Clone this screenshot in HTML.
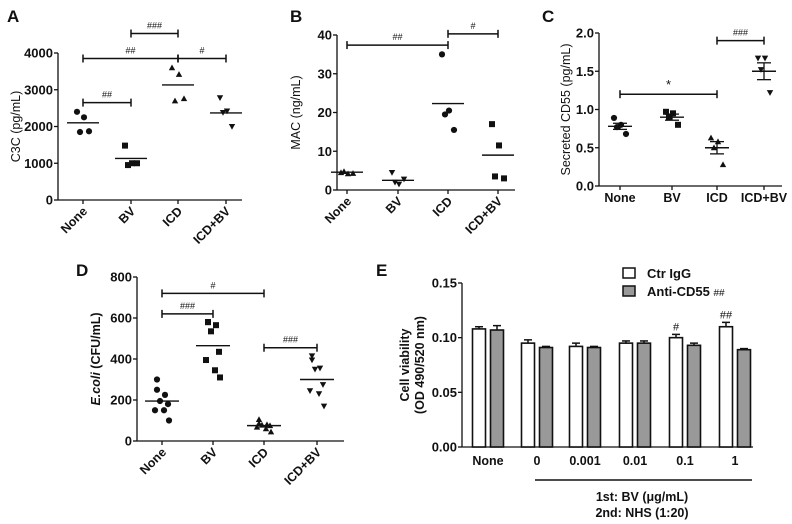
<!DOCTYPE html>
<html><head><meta charset="utf-8"><style>
body{margin:0;background:#fff}
svg{display:block;font-family:"Liberation Sans",Arial,sans-serif;font-weight:bold}
</style></head><body>
<svg id="fig" width="792" height="524" viewBox="0 0 792 524"></svg>
<script>
// ---- Data ----
const groups = ["None","BV","ICD","ICD+BV"];
const aVals = [[2400,2250,1850,1870],[1480,1000,950,1000],[3600,3420,2700,2760],[2780,2420,2380,2000]];
const aMeans = [2100,1130,3130,2370];
const bVals = [[4.5,4.2,4.8,4.3],[4.5,1.5,2.0,2.8],[35,20.5,19.5,15.5],[17,11.5,3.5,3]];
const bMeans = [4.6,2.5,22.3,9];
const cVals = [[0.89,0.8,0.77,0.68],[0.97,0.95,0.9,0.8],[0.63,0.58,0.5,0.28],[1.67,1.67,1.52,1.22]];
const cMeans = [0.78,0.9,0.5,1.5];
const cSem = [0.04,0.04,0.08,0.11];
const dVals = [[300,250,225,195,180,150,150,100],[580,580,565,535,435,395,345,310],[105,85,80,78,75,68,60,45],[415,395,355,350,275,245,230,170]];
const dMeans = [195,465,75,300];
const eCats = ["None","0","0.001","0.01","0.1","1"];
const eCtr = [0.108,0.095,0.092,0.095,0.100,0.110];
const eCtrErr = [0.002,0.003,0.003,0.002,0.003,0.004];
const eAnti = [0.107,0.091,0.091,0.095,0.093,0.089];
const eAntiErr = [0.004,0.001,0.001,0.002,0.002,0.001];
const aTicks = [0,1000,2000,3000,4000];
const bTicks = [0,10,20,30,40];
const cTicks = ["0.0","0.5","1.0","1.5","2.0"];
const dTicks = [0,200,400,600,800];
const eTicks = ["0.00","0.05","0.10","0.15"];

const NS="http://www.w3.org/2000/svg";
const svg=document.getElementById('fig');
function el(tag,attrs,parent,text){const e=document.createElementNS(NS,tag);for(const k in attrs)e.setAttribute(k,attrs[k]);if(text!==undefined)e.textContent=text;(parent||svg).appendChild(e);return e;}
function ln(p,x1,y1,x2,y2,w){return el('line',{x1,y1,x2,y2,stroke:'#111','stroke-width':w||1.3},p);}
function marker(p,type,x,y){
  const s=3.2;let m;
  if(type==='circle')m=el('circle',{cx:x,cy:y,r:3.1,fill:'#111'},p);
  else if(type==='square')m=el('rect',{x:x-3,y:y-3,width:6,height:6,fill:'#111'},p);
  else if(type==='up')m=el('polygon',{points:`${x},${y-s} ${x-s},${y+s*0.8} ${x+s},${y+s*0.8}`,fill:'#111'},p);
  else m=el('polygon',{points:`${x},${y+s} ${x-s},${y-s*0.8} ${x+s},${y-s*0.8}`,fill:'#111'},p);
  
  
}
// horizontal jitter pattern (layout only)
const jit4=[-6,1,-3,6];
const jit8=[-5,-5,3,-2,6,-7,2,7];
function spread(n,i){return n>4?jit8[i%8]:jit4[i%4];}

function scatterPanel(cfg){
  const g=el('g',{},svg);
  
  
  const y=v=>cfg.y0-(v-cfg.vmin)/(cfg.vmax-cfg.vmin)*(cfg.y0-cfg.yTop);
  const lab=el('text',{x:cfg.labelX,y:cfg.labelY,'font-size':17,fill:'#111'},g,cfg.letter);
  
  
  ln(g,cfg.ax,cfg.yTop,cfg.ax,cfg.y0);
  ln(g,cfg.ax,cfg.y0,cfg.axEnd,cfg.y0);
  cfg.ticks.forEach(t=>{const v=parseFloat(t);ln(g,cfg.ax-4,y(v),cfg.ax,y(v));
    const tt=el('text',{x:cfg.ax-5,y:y(v)+4.5,'text-anchor':'end','font-size':13,fill:'#111'},g,t);
    
    });
  const yt=el('text',{x:0,y:0,transform:`translate(${cfg.titleX},${(cfg.y0+cfg.yTop)/2}) rotate(-90)`,'text-anchor':'middle','font-size':12.5,'font-weight':cfg.titleBold?'bold':'normal',fill:'#111'},g);
  yt.innerHTML=cfg.title;
  
  
  groups.forEach((c,i)=>{const cx=cfg.cx[i];
    ln(g,cx,cfg.y0,cx,cfg.y0+4);
    let t;
    if(cfg.flatLabels) t=el('text',{x:cx,y:cfg.y0+16,'text-anchor':'middle','font-size':12.5,fill:'#111'},g,c);
    else t=el('text',{x:0,y:0,transform:`translate(${cx+5},${cfg.y0+12}) rotate(-45)`,'text-anchor':'end','font-size':12.5,fill:'#111'},g,c);
    
    
    const vals=cfg.vals[i];
    vals.forEach((v,j)=>marker(g,cfg.markers[i],cx+spread(vals.length,j),y(v)));
    const hw=cfg.sem?12:cfg.meanW;
    const m=ln(g,cx-hw,y(cfg.means[i]),cx+hw,y(cfg.means[i]),1.4);
    
    if(cfg.sem){const s=cfg.sem[i];
      ln(g,cx,y(cfg.means[i]-s),cx,y(cfg.means[i]+s));
      ln(g,cx-7,y(cfg.means[i]+s),cx+7,y(cfg.means[i]+s));
      ln(g,cx-7,y(cfg.means[i]-s),cx+7,y(cfg.means[i]-s));}
  });
  cfg.brackets.forEach(b=>{const by=y(b.v);const x1=cfg.cx[b.a],x2=cfg.cx[b.b];
    const bg=el('g',{},g);
    
    
    ln(bg,x1,by,x2,by,1.5);ln(bg,x1,by-4,x1,by+4,1.5);ln(bg,x2,by-4,x2,by+4,1.5);
    el('text',{x:(x1+x2)/2,y:by-5,'text-anchor':'middle','font-size':b.t==='*'?13:9,'font-weight':'normal',fill:'#111'},bg,b.t);
  });
}

scatterPanel({name:'panel-a',letter:'A',labelX:7,labelY:22,ax:58,axEnd:242,y0:200,yTop:53,vmin:0,vmax:4000,
  ticks:aTicks.map(String),title:'C3C (pg/mL)',titleX:20,cx:[83,131,178,226],vals:aVals,means:aMeans,meanW:16,
  markers:['circle','square','up','down'],
  brackets:[{a:0,b:1,v:2650,t:'##'},{a:0,b:2,v:3850,t:'##'},{a:2,b:3,v:3850,t:'#'},{a:1,b:2,v:4530,t:'###'}]});
scatterPanel({name:'panel-b',letter:'B',labelX:290,labelY:22,ax:337,axEnd:515,y0:190,yTop:35,vmin:0,vmax:40,
  ticks:bTicks.map(String),title:'MAC (ng/mL)',titleX:300,cx:[347,398,448,498],vals:bVals,means:bMeans,meanW:16,
  markers:['up','down','circle','square'],
  brackets:[{a:0,b:2,v:37.4,t:'##'},{a:2,b:3,v:40.3,t:'#'}]});
scatterPanel({name:'panel-c',letter:'C',labelX:542,labelY:22,ax:599,axEnd:782,y0:186,yTop:33,vmin:0,vmax:2,
  ticks:cTicks,title:'Secreted CD55 (pg/mL)',titleX:570,cx:[620,672,717,764],vals:cVals,means:cMeans,sem:cSem,flatLabels:true,
  markers:['circle','square','up','down'],
  brackets:[{a:0,b:2,v:1.2,t:'*'},{a:2,b:3,v:1.9,t:'###'}]});
scatterPanel({name:'panel-d',letter:'D',labelX:76,labelY:276,ax:137,axEnd:344,y0:441,yTop:277,vmin:0,vmax:800,titleBold:true,
  ticks:dTicks.map(String),title:'<tspan font-style="italic">E.coli</tspan> (CFU/mL)',titleX:100,cx:[162,213,264,317],vals:dVals,means:dMeans,meanW:17,
  markers:['circle','square','up','down'],
  brackets:[{a:0,b:2,v:720,t:'#'},{a:0,b:1,v:620,t:'###'},{a:2,b:3,v:455,t:'###'}]});

// ---- Panel E ----
(function(){
  const g=el('g',{},svg);
  
  
  const ax=462,axEnd=753,y0=447,yTop=283,vmax=0.15;
  const y=v=>y0-v/vmax*(y0-yTop);
  const cx=[488,537,585,635,685,735];
  const bw=13,gap=5;
  const lab=el('text',{x:376,y:276,'font-size':17,fill:'#111'},g,'E');
  
  
  ln(g,ax,yTop,ax,y0);ln(g,ax,y0,axEnd,y0);
  eTicks.forEach(t=>{const v=parseFloat(t);ln(g,ax-4,y(v),ax,y(v));
    const tt=el('text',{x:ax-5,y:y(v)+4.5,'text-anchor':'end','font-size':13,fill:'#111'},g,t);
    
    });
  const yt=el('text',{transform:`translate(412,${(y0+yTop)/2}) rotate(-90)`,'text-anchor':'middle','font-size':12.5,fill:'#111'},g);
  
  
  el('tspan',{x:0,dy:-3},yt,'Cell viability');
  el('tspan',{x:0,dy:15},yt,'(OD 490/520 nm)');
  eCats.forEach((c,i)=>{
    const x1=cx[i]-gap/2-bw, x2=cx[i]+gap/2;
    [[x1,eCtr[i],eCtrErr[i],'#fff','bar-ctr-igg'],[x2,eAnti[i],eAntiErr[i],'#999','bar-anti-cd55']].forEach(b=>{
      const top=y(b[1]+b[2]);
      ln(g,b[0]+bw/2,top,b[0]+bw/2,y(b[1]),1.5);ln(g,b[0]+bw/2-4,top,b[0]+bw/2+4,top,1.5);
      const r=el('rect',{x:b[0],y:y(b[1]),width:bw,height:y0-y(b[1]),fill:b[3],stroke:'#111','stroke-width':1.6},g);
      
      
    });
    const t=el('text',{x:cx[i],y:y0+18,'text-anchor':'middle','font-size':12.5,fill:'#111'},g,c);
    
    
  });
  el('text',{x:cx[4]-gap/2-bw/2,y:y(eCtr[4]+eCtrErr[4])-4,'text-anchor':'middle','font-size':11,'font-weight':'normal',fill:'#111'},g,'#');
  el('text',{x:cx[5]-gap/2-bw/2,y:y(eCtr[5]+eCtrErr[5])-4,'text-anchor':'middle','font-size':11,'font-weight':'normal',fill:'#111'},g,'##');
  ln(g,535,480,752,480,1.5);
  el('text',{x:642,y:501,'text-anchor':'middle','font-size':12.5,fill:'#111'},g,'1st: BV (\u03bcg/mL)');
  el('text',{x:642,y:517,'text-anchor':'middle','font-size':12.5,fill:'#111'},g,'2nd: NHS (1:20)');
  const lg=el('g',{},g);
  
  
  el('rect',{x:623,y:268,width:12,height:10,fill:'#fff',stroke:'#111','stroke-width':1.5},lg);
  el('text',{x:647,y:278,'font-size':13,fill:'#111'},lg,'Ctr IgG');
  el('rect',{x:623,y:286,width:12,height:10,fill:'#999',stroke:'#111','stroke-width':1.5},lg);
  const t2=el('text',{x:647,y:296,'font-size':13,fill:'#111'},lg,'Anti-CD55 ');
  el('tspan',{'font-size':10,'font-weight':'normal'},t2,'##');
})();
</script>
</body></html>
